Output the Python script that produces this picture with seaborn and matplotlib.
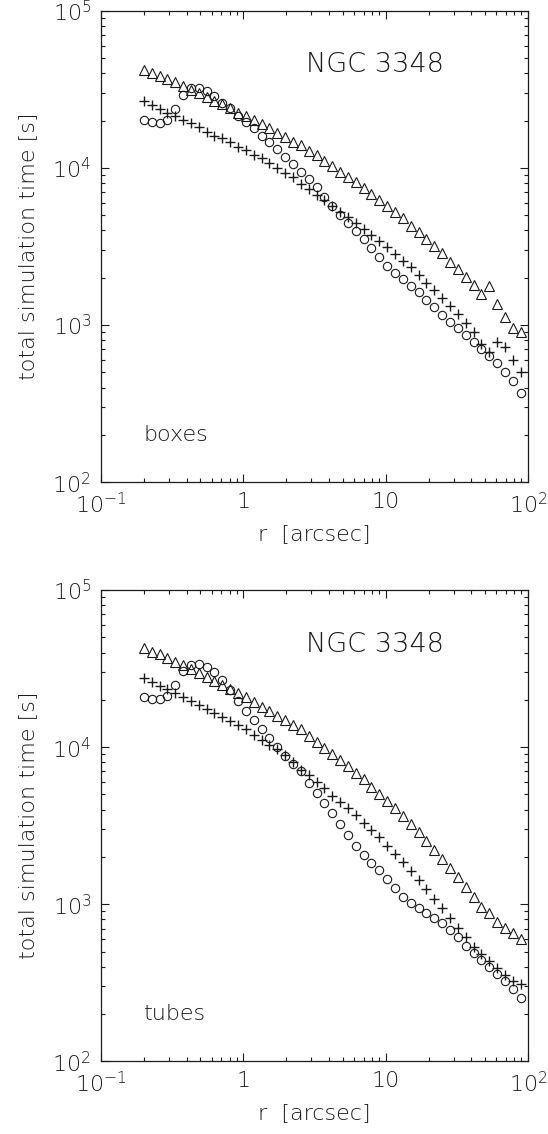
import matplotlib
matplotlib.use("Agg")
import matplotlib.pyplot as plt
import seaborn as sns
from matplotlib.ticker import LogLocator, NullFormatter, FixedLocator

# radii [arcsec]
r = [0.200, 0.227, 0.258, 0.293, 0.332, 0.377, 0.428, 0.486, 0.552, 0.627,
     0.712, 0.808, 0.918, 1.042, 1.183, 1.344, 1.526, 1.732, 1.967, 2.233,
     2.535, 2.879, 3.268, 3.711, 4.213, 4.784, 5.432, 6.167, 7.002, 7.950,
     9.027, 10.25, 11.64, 13.21, 15.00, 17.03, 19.34, 21.96, 24.93, 28.31,
     32.14, 36.49, 41.44, 47.04, 53.42, 60.65, 68.86, 78.18, 88.77]

# top panel (boxes)
boxes_tri = [41980, 39990, 38430, 36770, 35030, 33190, 31300, 29830, 28380, 26760,
             25500, 23940, 22440, 21390, 20170, 19020, 17860, 16750, 15790, 14680,
             13880, 12770, 11990, 11110, 10280, 9459, 8790, 8099, 7418, 6823,
             6248, 5721, 5218, 4779, 4289, 3928, 3529, 3186, 2862, 2531,
             2285, 2032, 1799, 1577, 1781, 1362, 1131, 954, 908]
boxes_plus = [26640, 25130, 23700, 22440, 21390, 20170, 19380, 18130, 17000, 16030,
              15430, 14680, 13640, 13000, 12080, 11510, 10790, 10030, 9322, 8790,
              7900, 7300, 6724, 6248, 5721, 5265, 4893, 4442, 4068, 3742,
              3443, 3125, 2834, 2568, 2332, 2083, 1861, 1672, 1481, 1323,
              1171, 1027, 900, 758, 677, 784, 722, 600, 501]
boxes_circ = [20170, 19670, 19380, 20170, 23700, 29090, 32090, 32370, 30980, 28670,
              25980, 23940, 21490, 19500, 17860, 16030, 14550, 13130, 11780, 10540,
              9376, 8463, 7594, 6501, 5721, 5017, 4481, 3986, 3514, 3080,
              2700, 2387, 2135, 1965, 1781, 1617, 1444, 1309, 1159, 1051,
              954, 865, 784, 701, 636, 577, 505, 441, 370]

# bottom panel (tubes)
tubes_tri = [42550, 40490, 38970, 36750, 34960, 33310, 31280, 29500, 28070, 26350,
             24860, 23430, 22000, 20750, 19280, 18080, 16980, 15780, 14880, 13820,
             12980, 11770, 10820, 9826, 9040, 8277, 7582, 6871, 6237, 5595,
             5029, 4558, 4077, 3642, 3240, 2868, 2525, 2213, 1940, 1707,
             1483, 1281, 1116, 964, 875, 774, 709, 653, 598]
tubes_plus = [27410, 26080, 24490, 23330, 22000, 20750, 19650, 18530, 17400, 16410,
              15480, 14660, 13820, 13040, 11940, 11100, 10310, 9683, 8907, 8075,
              7200, 6644, 6022, 5467, 4904, 4493, 4077, 3696, 3303, 2967,
              2666, 2357, 2087, 1848, 1627, 1426, 1244, 1079, 942, 813,
              702, 616, 536, 482, 435, 393, 354, 324, 310]
tubes_circ = [20750, 20240, 20150, 21150, 24860, 30510, 33310, 33810, 32490, 29940,
              26730, 23090, 19740, 16980, 14880, 12980, 11380, 9970, 8817, 7806,
              7000, 5934, 5124, 4427, 3789, 3240, 2757, 2357, 2057, 1838,
              1651, 1447, 1263, 1116, 1013, 942, 875, 813, 756, 685,
              616, 544, 487, 441, 398, 359, 324, 289, 253]

x_ticks = [0.1, 1, 10, 100]
x_ticklabels = [r'$10^{-1}$', '1', '10', r'$10^{2}$']
y_ticks = [1e2, 1e3, 1e4, 1e5]
y_ticklabels = [r'$10^{2}$', r'$10^{3}$', r'$10^{4}$', r'$10^{5}$']

sns.set_theme(style="ticks")
plt.rcParams['font.family'] = ['DejaVu Sans']
plt.rcParams['font.weight'] = 'light'
plt.rcParams['axes.labelweight'] = 'light'
plt.rcParams['mathtext.fontset'] = 'dejavusans'
plt.rcParams['text.color'] = 'k'

fig = plt.figure(figsize=(5.48, 11.34), dpi=100)
fig.patch.set_facecolor('white')
ax1 = fig.add_axes([0.1843, 0.5747, 0.7792, 0.4159])
ax2 = fig.add_axes([0.1843, 0.0641, 0.7792, 0.4156])

FS = 16


def panel(ax, tri, plus, circ, name):
    ax.set_xscale('log')
    ax.set_yscale('log')
    common = dict(ax=ax, linestyle='', color='k', estimator=None, sort=False,
                  legend=False)
    sns.lineplot(x=r, y=tri, marker='^', markersize=6.5, markerfacecolor='none',
                 markeredgecolor='k', markeredgewidth=0.8, **common)
    sns.lineplot(x=r, y=plus, marker='+', markersize=6.5,
                 markeredgecolor='k', markeredgewidth=1.0, **common)
    sns.lineplot(x=r, y=circ, marker='o', markersize=6, markerfacecolor='none',
                 markeredgecolor='k', markeredgewidth=0.8, **common)
    ax.set_xlim(0.1, 100)
    ax.set_ylim(100, 1e5)
    ax.xaxis.set_major_locator(FixedLocator(x_ticks))
    ax.set_xticklabels(x_ticklabels)
    ax.yaxis.set_major_locator(FixedLocator(y_ticks))
    ax.set_yticklabels(y_ticklabels)
    ax.xaxis.set_minor_locator(LogLocator(base=10, subs=range(2, 10), numticks=20))
    ax.yaxis.set_minor_locator(LogLocator(base=10, subs=range(2, 10), numticks=20))
    ax.xaxis.set_minor_formatter(NullFormatter())
    ax.yaxis.set_minor_formatter(NullFormatter())
    ax.tick_params(which='both', direction='in', top=True, right=True,
                   color='k', width=0.8, labelsize=FS, labelcolor='k')
    ax.tick_params(which='major', length=6, pad=7)
    ax.tick_params(which='minor', length=3)
    for s in ax.spines.values():
        s.set_color('k')
        s.set_linewidth(0.9)
    ax.set_facecolor('white')
    ax.grid(False)
    ax.set_xlabel('r  [arcsec]', fontsize=FS, color='k', labelpad=5,
                  fontweight='light')
    ax.set_ylabel('total simulation time [s]', fontsize=FS, color='k', labelpad=10,
                  fontweight='light')
    ax.text(0.48, 0.885, 'NGC 3348', transform=ax.transAxes, fontsize=19.5,
            color='k', va='center', ha='left', fontweight='light')
    ax.text(0.10, 0.10, name, transform=ax.transAxes, fontsize=FS,
            color='k', va='center', ha='left', fontweight='light')


panel(ax1, boxes_tri, boxes_plus, boxes_circ, 'boxes')
panel(ax2, tubes_tri, tubes_plus, tubes_circ, 'tubes')

fig.savefig('out.png', dpi=100, facecolor='white')
